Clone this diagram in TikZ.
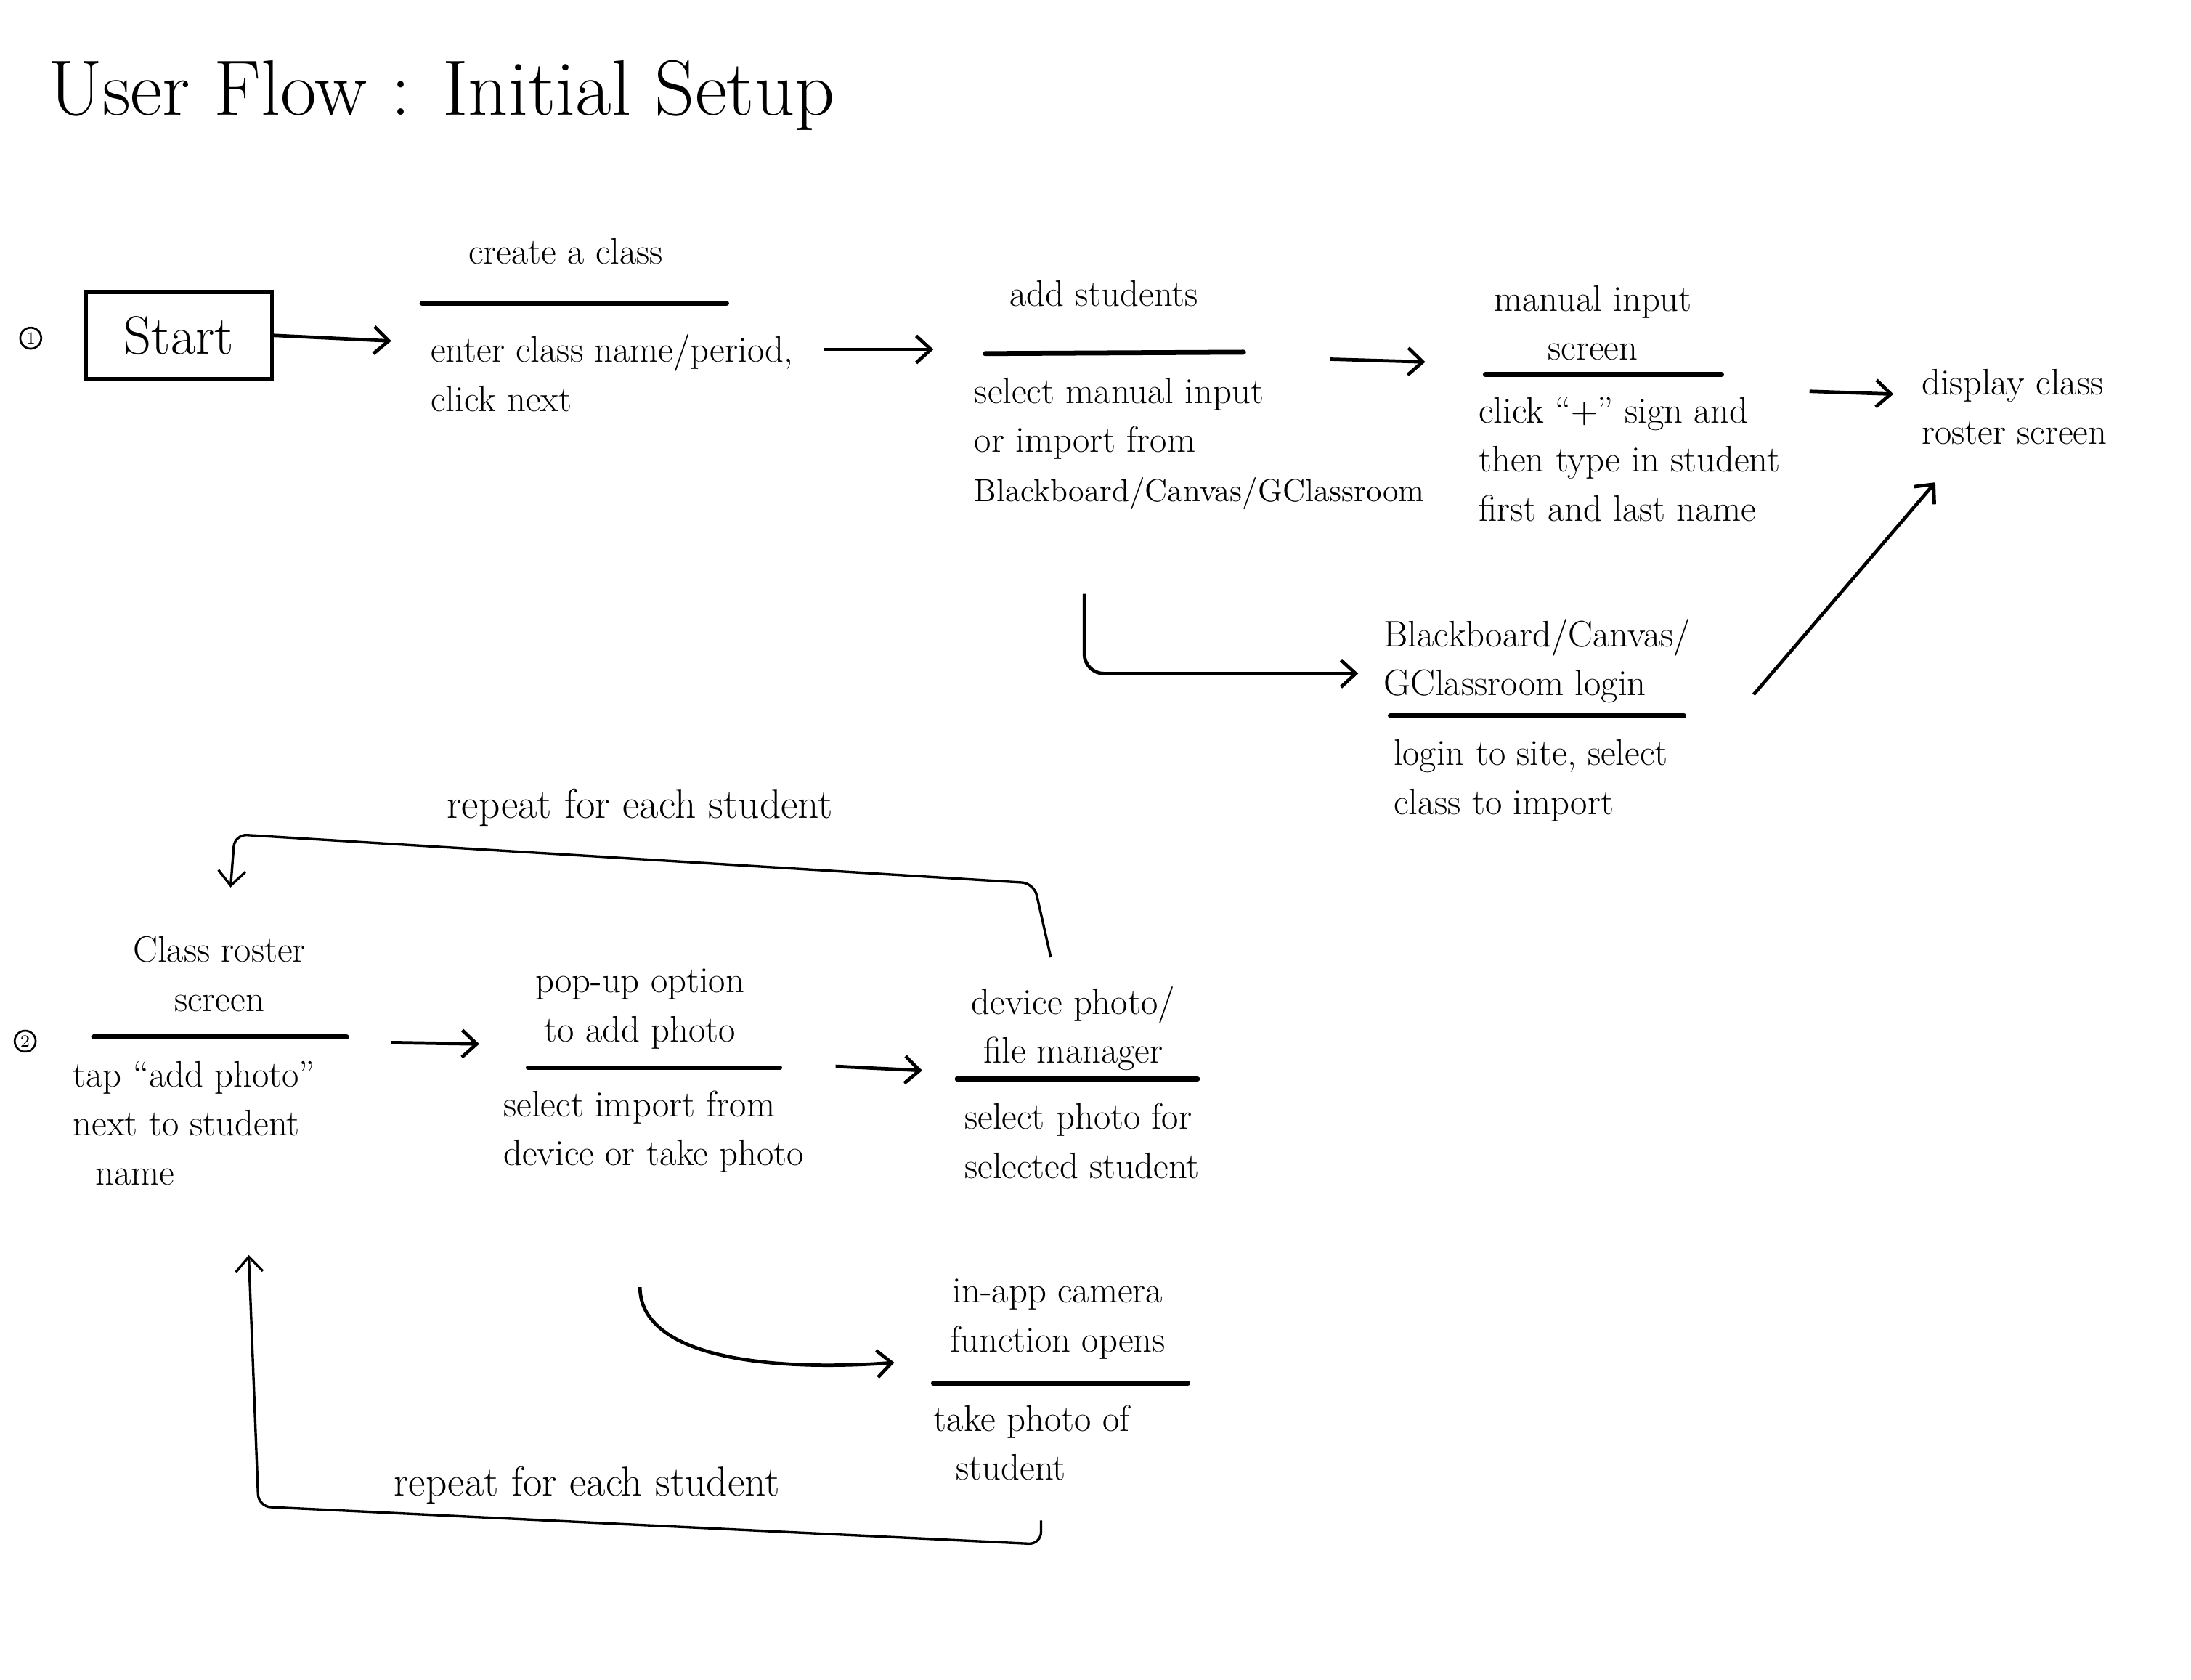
\documentclass[tikz,border=0pt]{standalone}
\usepackage{tikz}
\usetikzlibrary{arrows.meta,positioning,calc}

\begin{document}
\begin{tikzpicture}[
  x=0.02cm, y=-0.02cm,
  title/.style={font=\fontsize{32}{38}\selectfont,anchor=west,inner sep=0pt},
  num/.style={circle,draw,line width=0.8pt,minimum size=0.3cm,inner sep=0pt,
              font=\fontsize{7}{8}\selectfont},
  startbox/.style={rectangle,draw,line width=1.6pt,minimum width=2.66cm,
                   minimum height=1.24cm,font=\fontsize{22}{26}\selectfont},
  head/.style={align=center,font=\fontsize{15}{20}\selectfont,inner sep=0pt},
  body/.style={align=left,anchor=north west,font=\fontsize{15}{20}\selectfont,inner sep=0pt},
  note/.style={font=\fontsize{17}{20}\selectfont,inner sep=0pt},
  rule/.style={line width=2pt,line cap=round},
  flow/.style={-{Straight Barb[length=6pt,width=11pt]},line width=1.4pt},
  loopback/.style={-{Straight Barb[length=6pt,width=11pt]},line width=1pt,rounded corners=5pt},
]
  \useasboundingbox (0,0) rectangle (1568,1202);

  \node[title] (title) at (34,68) {User Flow : Initial Setup};

  % step 1: create the class
  \node[num] (one) at (22,242) {1};
  \node[startbox] (start) at (128,240) {Start};

  \coordinate (ccL) at (302,217); \coordinate (ccR) at (520,217);
  \node[head] (cchead) at (405,180) {create a class};
  \node[body] (ccbody) at (308,239) {enter class name/period,\\click next};

  \coordinate (asL) at (705,253); \coordinate (asR) at (890,252);
  \node[head] (ashead) at (790,210) {add students};
  \node[body] (asbody) at (697,270) {select manual input\\or import from\\{\fontsize{13}{20}\selectfont Blackboard/Canvas/GClassroom}};

  \coordinate (miL) at (1063,268); \coordinate (miR) at (1232,268);
  \node[head] (mihead) at (1140,231) {manual input\\screen};
  \node[body] (mibody) at (1058,284) {click ``+'' sign and\\then type in student\\first and last name};

  \node[head,align=left,anchor=west] (dchead) at (1375,291) {display class\\roster screen};

  \coordinate (lgL) at (995,512); \coordinate (lgR) at (1205,512);
  \node[head,align=left,anchor=west] (lghead) at (990,473) {Blackboard/Canvas/\\GClassroom login};
  \node[body] (lgbody) at (997,529) {login to site, select\\class to import};

  \foreach \a/\b in {ccL/ccR,asL/asR,miL/miR,lgL/lgR}
    \draw[rule] (\a) -- (\b);

  \draw[flow] (start.east) -- ($(ccL)+(-22,27)$);
  \draw[flow] ($(ccR)+(70,33)$) -- ($(asL)+(-37,-3)$);
  \draw[flow] ($(asR)+(62,5)$) -- ($(miL)+(-43,-9)$);
  \draw[flow] ($(miR)+(63,12)$) -- ($(dchead.west)+(-20,-9)$);
  \draw[flow,rounded corners=8pt] ($(asbody.south west)+(79,60)$) |- ($(lghead.west)+(-18,9)$);
  \draw[flow] ($(lgR)+(50,-15)$) -- ($(dchead.south west)+(10,27)$);

  % step 2: add photos
  \node[num] (two) at (18,745) {2};

  \coordinate (crL) at (67,742); \coordinate (crR) at (248,742);
  \node[head] (crhead) at (157,697) {Class roster\\screen};
  \node[body] (crbody) at (52,759) {tap ``add photo''\\next to student\\\ \ name};

  \coordinate (puL) at (378,764); \coordinate (puR) at (558,764);
  \node[head] (puhead) at (458,722) {pop-up option\\to add photo};
  \node[body] (pubody) at (360,780) {select import from\\device or take photo};

  \coordinate (dmL) at (685,772); \coordinate (dmR) at (857,772);
  \node[head] (dmhead) at (768,736) {device photo/\\file manager};
  \node[body] (dmbody) at (690,789) {select photo for\\selected student};

  \coordinate (iaL) at (668,990); \coordinate (iaR) at (850,990);
  \node[head] (iahead) at (757,944) {in-app camera\\function opens};
  \node[body] (iabody) at (668,1005) {take photo of\\\ \ student};

  \foreach \a/\b in {crL/crR,puL/puR,dmL/dmR,iaL/iaR}
    \draw[rule] (\a) -- (\b);

  \draw[flow] ($(crR)+(32,4)$) -- ($(puL)+(-35,-17)$);
  \draw[flow] ($(puR)+(40,-1)$) -- ($(dmL)+(-25,-6)$);
  \draw[flow] ($(puL)+(80,157)$) .. controls ($(puL)+(80,205)$) and ($(puL)+(165,218)$) .. ($(iaL)+(-28,-15)$);

  % loops back to the roster
  \node[note] (rep1) at (458,578) {repeat for each student};
  \draw[loopback] ($(dmL)+(67,-87)$) -- ($(dmL)+(55,-140)$) -- ($(crL)+(101,-145)$) -- ($(crL)+(98,-107)$);
  \node[note] (rep2) at (420,1063) {repeat for each student};
  \draw[loopback] ($(iaL)+(77,98)$) -- ($(iaL)+(77,115)$) -- ($(crL)+(118,336)$) -- ($(crL)+(111,156)$);
\end{tikzpicture}
\end{document}
